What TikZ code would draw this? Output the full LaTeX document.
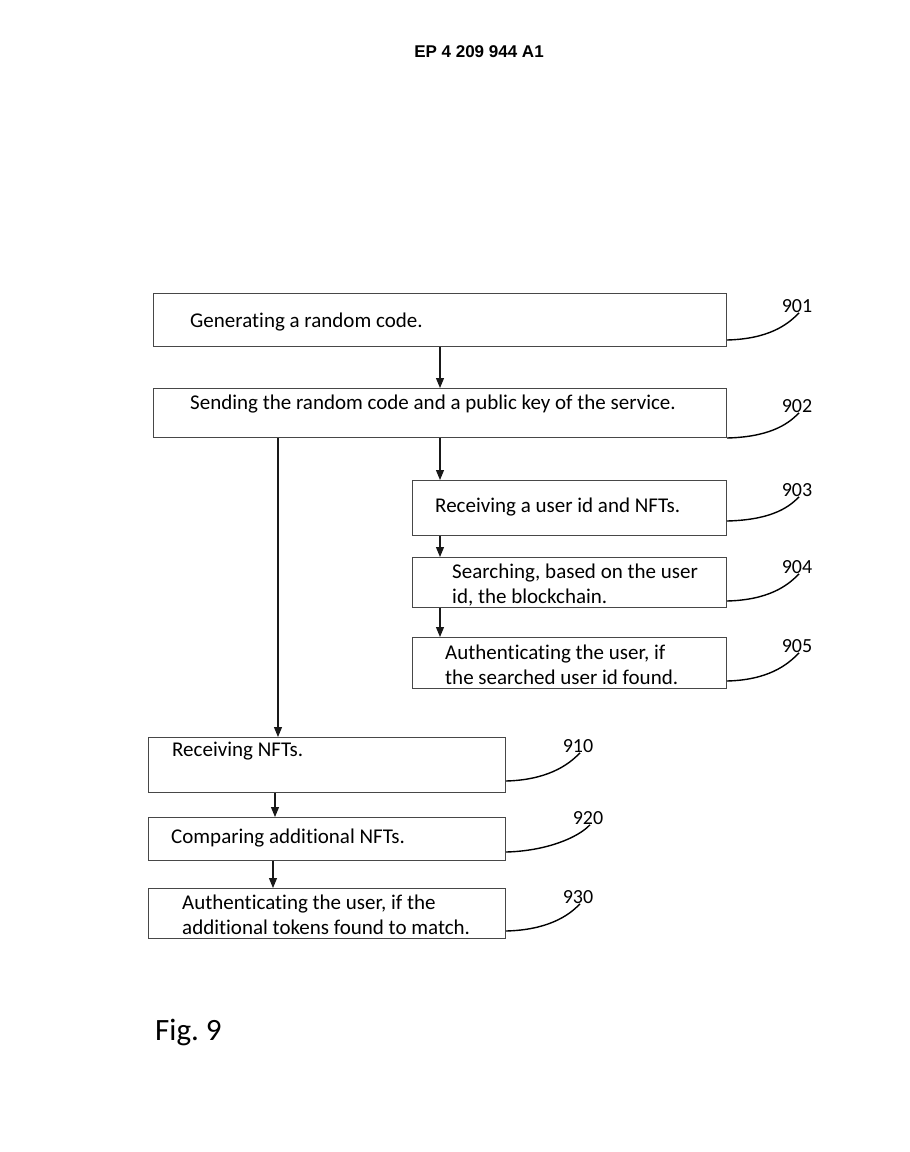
\documentclass[tikz,border=0pt]{standalone}
\usepackage{fontspec}
\setmainfont{Carlito}[Ligatures=NoCommon]
\newfontfamily\hdrfont{Liberation Sans}
\usetikzlibrary{arrows.meta,calc}
\begin{document}
\begin{tikzpicture}[x=1pt,y=-1pt,
  box/.style={draw=black!72, line width=1pt, inner sep=0pt, anchor=north west},
  txt/.style={anchor=west, inner sep=0pt, font=\fontsize{21}{24.5}\selectfont, align=left},
  num/.style={inner sep=0pt, font=\fontsize{20}{22}\selectfont},
  arr/.style={draw=black!90, -{Triangle[length=10pt,width=8pt]}, line width=1.1pt},
  lead/.style={draw=black, line width=1.4pt}]
\fill[white] (0,0) rectangle (910,1152);
\useasboundingbox (0,0) rectangle (910,1152);
% header
\node[font=\hdrfont\bfseries\fontsize{17}{20}\selectfont, inner sep=0pt] (hdr) at (479,52) {EP 4 209 944 A1};
% boxes
\node[box, minimum width=573pt, minimum height=53pt] (b901) at (153,293) {};
\node[box, minimum width=573pt, minimum height=49pt] (b902) at (153,388) {};
\node[box, minimum width=314pt, minimum height=55pt] (b903) at (412,480) {};
\node[box, minimum width=314pt, minimum height=50pt] (b904) at (412,557) {};
\node[box, minimum width=314pt, minimum height=51pt] (b905) at (412,637) {};
\node[box, minimum width=357pt, minimum height=55pt] (b910) at (148,737) {};
\node[box, minimum width=357pt, minimum height=43pt] (b920) at (148,817) {};
\node[box, minimum width=357pt, minimum height=50pt] (b930) at (148,888) {};
% texts
\node[txt] (t901) at (190,322) {Generating a random code.};
\node[txt] (t902) at (190,404) {Sending the random code and a public key of the service.};
\node[txt] (t903) at (435,507) {Receiving a user id and NFTs.};
\node[txt] (t904) at (452,585) {Searching, based on the user\\id, the blockchain.};
\node[txt] (t905) at (445,665) {Authenticating the user, if\\the searched user id found.};
\node[txt] (t910) at (172,751) {Receiving NFTs.};
\node[txt] (t920) at (171,838) {Comparing additional NFTs.};
\node[txt] (t930) at (182,915) {Authenticating the user, if the\\additional tokens found to match.};
% arrow anchor points
\coordinate (a1) at ($(b903.south west)+(28,0)$);
\coordinate (a2) at ($(b904.north west)+(28,0)$);
\coordinate (a3) at ($(b904.south west)+(28,0)$);
\coordinate (a4) at ($(b905.north west)+(28,0)$);
\coordinate (a5) at ($(b902.south west)+(125,0)$);
\coordinate (a6) at (a5 |- b910.north);
\coordinate (a7) at ($(b910.south west)+(127,0)$);
\coordinate (a8) at ($(b920.north west)+(127,0)$);
\coordinate (a9) at ($(b920.south west)+(125,0)$);
\coordinate (a10) at ($(b930.north west)+(125,0)$);
% arrows
\draw[arr] (b901.south) -- (b902.north);
\draw[arr] (b902.south) -- (b902.south |- b903.north);
\draw[arr] (a1) -- (a2);
\draw[arr] (a3) -- (a4);
\draw[arr] (a5) -- (a6);
\draw[arr] (a7) -- (a8);
\draw[arr] (a9) -- (a10);
% reference numerals
\node[num] (n901) at (797,306) {901};
\node[num] (n902) at (797,406) {902};
\node[num] (n903) at (797,490) {903};
\node[num] (n904) at (797,567) {904};
\node[num] (n905) at (797,646) {905};
\node[num] (n910) at (578,746) {910};
\node[num] (n920) at (588,818) {920};
\node[num] (n930) at (578,897) {930};
% leaders
\coordinate (s901) at ($(b901.south east)+(0,-7)$);
\coordinate (s902) at ($(b902.south east)+(0,0)$);
\coordinate (s903) at ($(b903.south east)+(0,-15)$);
\coordinate (s904) at ($(b904.south east)+(0,-7)$);
\coordinate (s905) at ($(b905.south east)+(0,-8)$);
\coordinate (s910) at ($(b910.south east)+(0,-12)$);
\coordinate (s920) at ($(b920.south east)+(0,-9)$);
\coordinate (s930) at ($(b930.south east)+(0,-8)$);
\foreach \n in {901,902,903,904,905,910,920,930}{
  \draw[lead] (s\n) .. controls +(40,-1) and +(-12,13) .. ($(n\n.south)+(2,0)$);
}
% figure label
\node[anchor=west, inner sep=0pt, font=\fontsize{31}{34}\selectfont] (fig) at (155,1032) {Fig.\ 9};
\end{tikzpicture}
\end{document}
